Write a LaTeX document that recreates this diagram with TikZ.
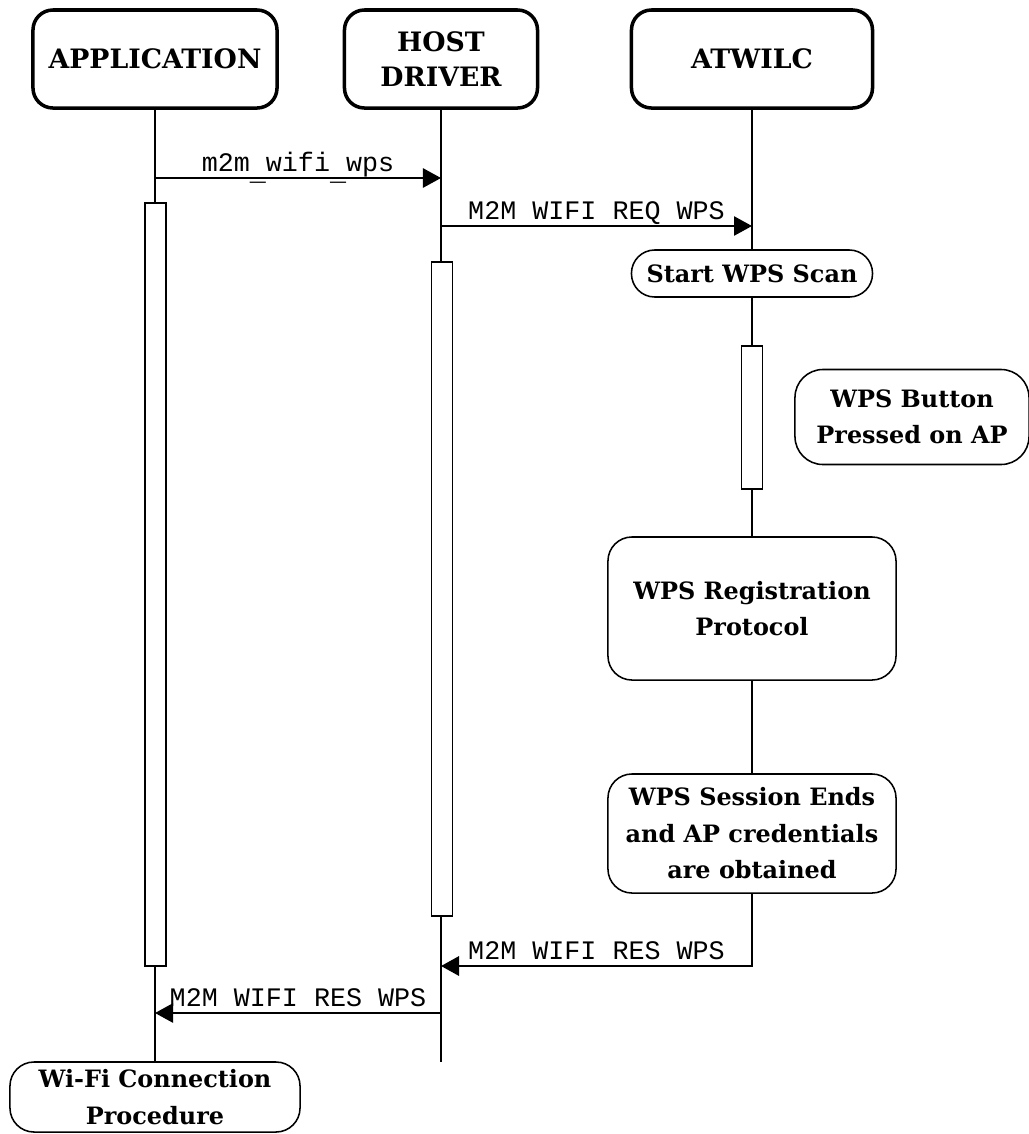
\documentclass[tikz,border=0pt]{standalone}
\usepackage{fontspec}
\setmainfont{DejaVu Serif}
\setmonofont{Liberation Mono}
\usetikzlibrary{arrows.meta}
\newcommand\usdeep{\raisebox{-0.22cm}{\_}}
\newcommand\usline{\raisebox{-0.115cm}{\_}}
\begin{document}
\begin{tikzpicture}[x=0.025cm,y=-0.025cm,
  head/.style={draw,line width=2.5pt,rounded corners=0.5cm,align=center,inner sep=0pt,
    minimum height=2.45cm,font=\fontsize{19}{25}\selectfont\bfseries},
  note/.style={draw,line width=1.1pt,align=center,inner sep=0pt,fill=white,
    font=\fontsize{17}{26}\selectfont\bfseries},
  bar/.style={draw,line width=1.4pt,fill=white,minimum width=0.525cm,inner sep=0pt},
  life/.style={line width=1.8pt},
  msg/.style={line width=1.4pt,-{Triangle[length=0.45cm,width=0.48cm]}},
  lbl/.style={pos=0.5,anchor=base,yshift=0.16cm,font=\fontsize{19}{22}\selectfont\ttfamily}
]
\useasboundingbox (0,0) rectangle (1029,1134);
% heads
\node[head,minimum width=6.1cm] (app) at (155,59) {APPLICATION};
\node[head,minimum width=4.825cm] (host) at (441,59) {HOST\\DRIVER};
\node[head,minimum width=6.025cm] (atw) at (752,59) {ATWILC};
% notes
\node[note,rounded corners=0.58cm,minimum width=6.025cm,minimum height=1.175cm] (scan) at (752,273.5) {Start WPS Scan};
\node[note,rounded corners=0.7cm,minimum width=5.85cm,minimum height=2.375cm] (btn) at (912,417) {WPS Button\\Pressed on AP};
\node[note,rounded corners=0.6cm,minimum width=7.2cm,minimum height=3.575cm] (reg) at (752,608.5) {WPS Registration\\Protocol};
\node[note,rounded corners=0.6cm,minimum width=7.2cm,minimum height=2.975cm] (sess) at (752,833.5) {WPS Session Ends\\and AP credentials\\are obtained};
\node[note,rounded corners=0.6cm,minimum width=7.25cm,minimum height=1.75cm] (wifi) at (155,1097) {Wi-Fi Connection\\Procedure};
% lifelines
\coordinate (hostend) at (441,1062);
\coordinate (atwturn) at (752,966);
\draw[life] (app.south) -- (wifi.north);
\draw[life] (host.south) -- (hostend);
\draw[life] (atw.south) -- (scan.north);
\draw[life] (scan.south) -- (reg.north);
\draw[life] (reg.south) -- (sess.north);
% activation bars
\node[bar,minimum height=19.075cm] (appbar) at (155.5,584.5) {};
\node[bar,minimum height=16.35cm] (hostbar) at (442,589) {};
\node[bar,minimum height=3.575cm] (atwbar) at (752,417.5) {};
% messages
\draw[msg] (app.south |- 0,178) -- (host.south |- 0,178) node[lbl] {m2m\usdeep wifi\usdeep wps};
\draw[msg] (host.south |- 0,226) -- (atw.south |- 0,226) node[lbl] {M2M\usline WIFI\usline REQ\usline WPS};
\draw[msg,line width=1.8pt] (sess.south) -- (atwturn) -- (host.south |- atwturn) node[lbl] {M2M\usline WIFI\usline RES\usline WPS};
\draw[msg] (host.south |- 0,1013) -- (app.south |- 0,1013) node[lbl] {M2M\usline WIFI\usline RES\usline WPS};
\end{tikzpicture}
\end{document}
